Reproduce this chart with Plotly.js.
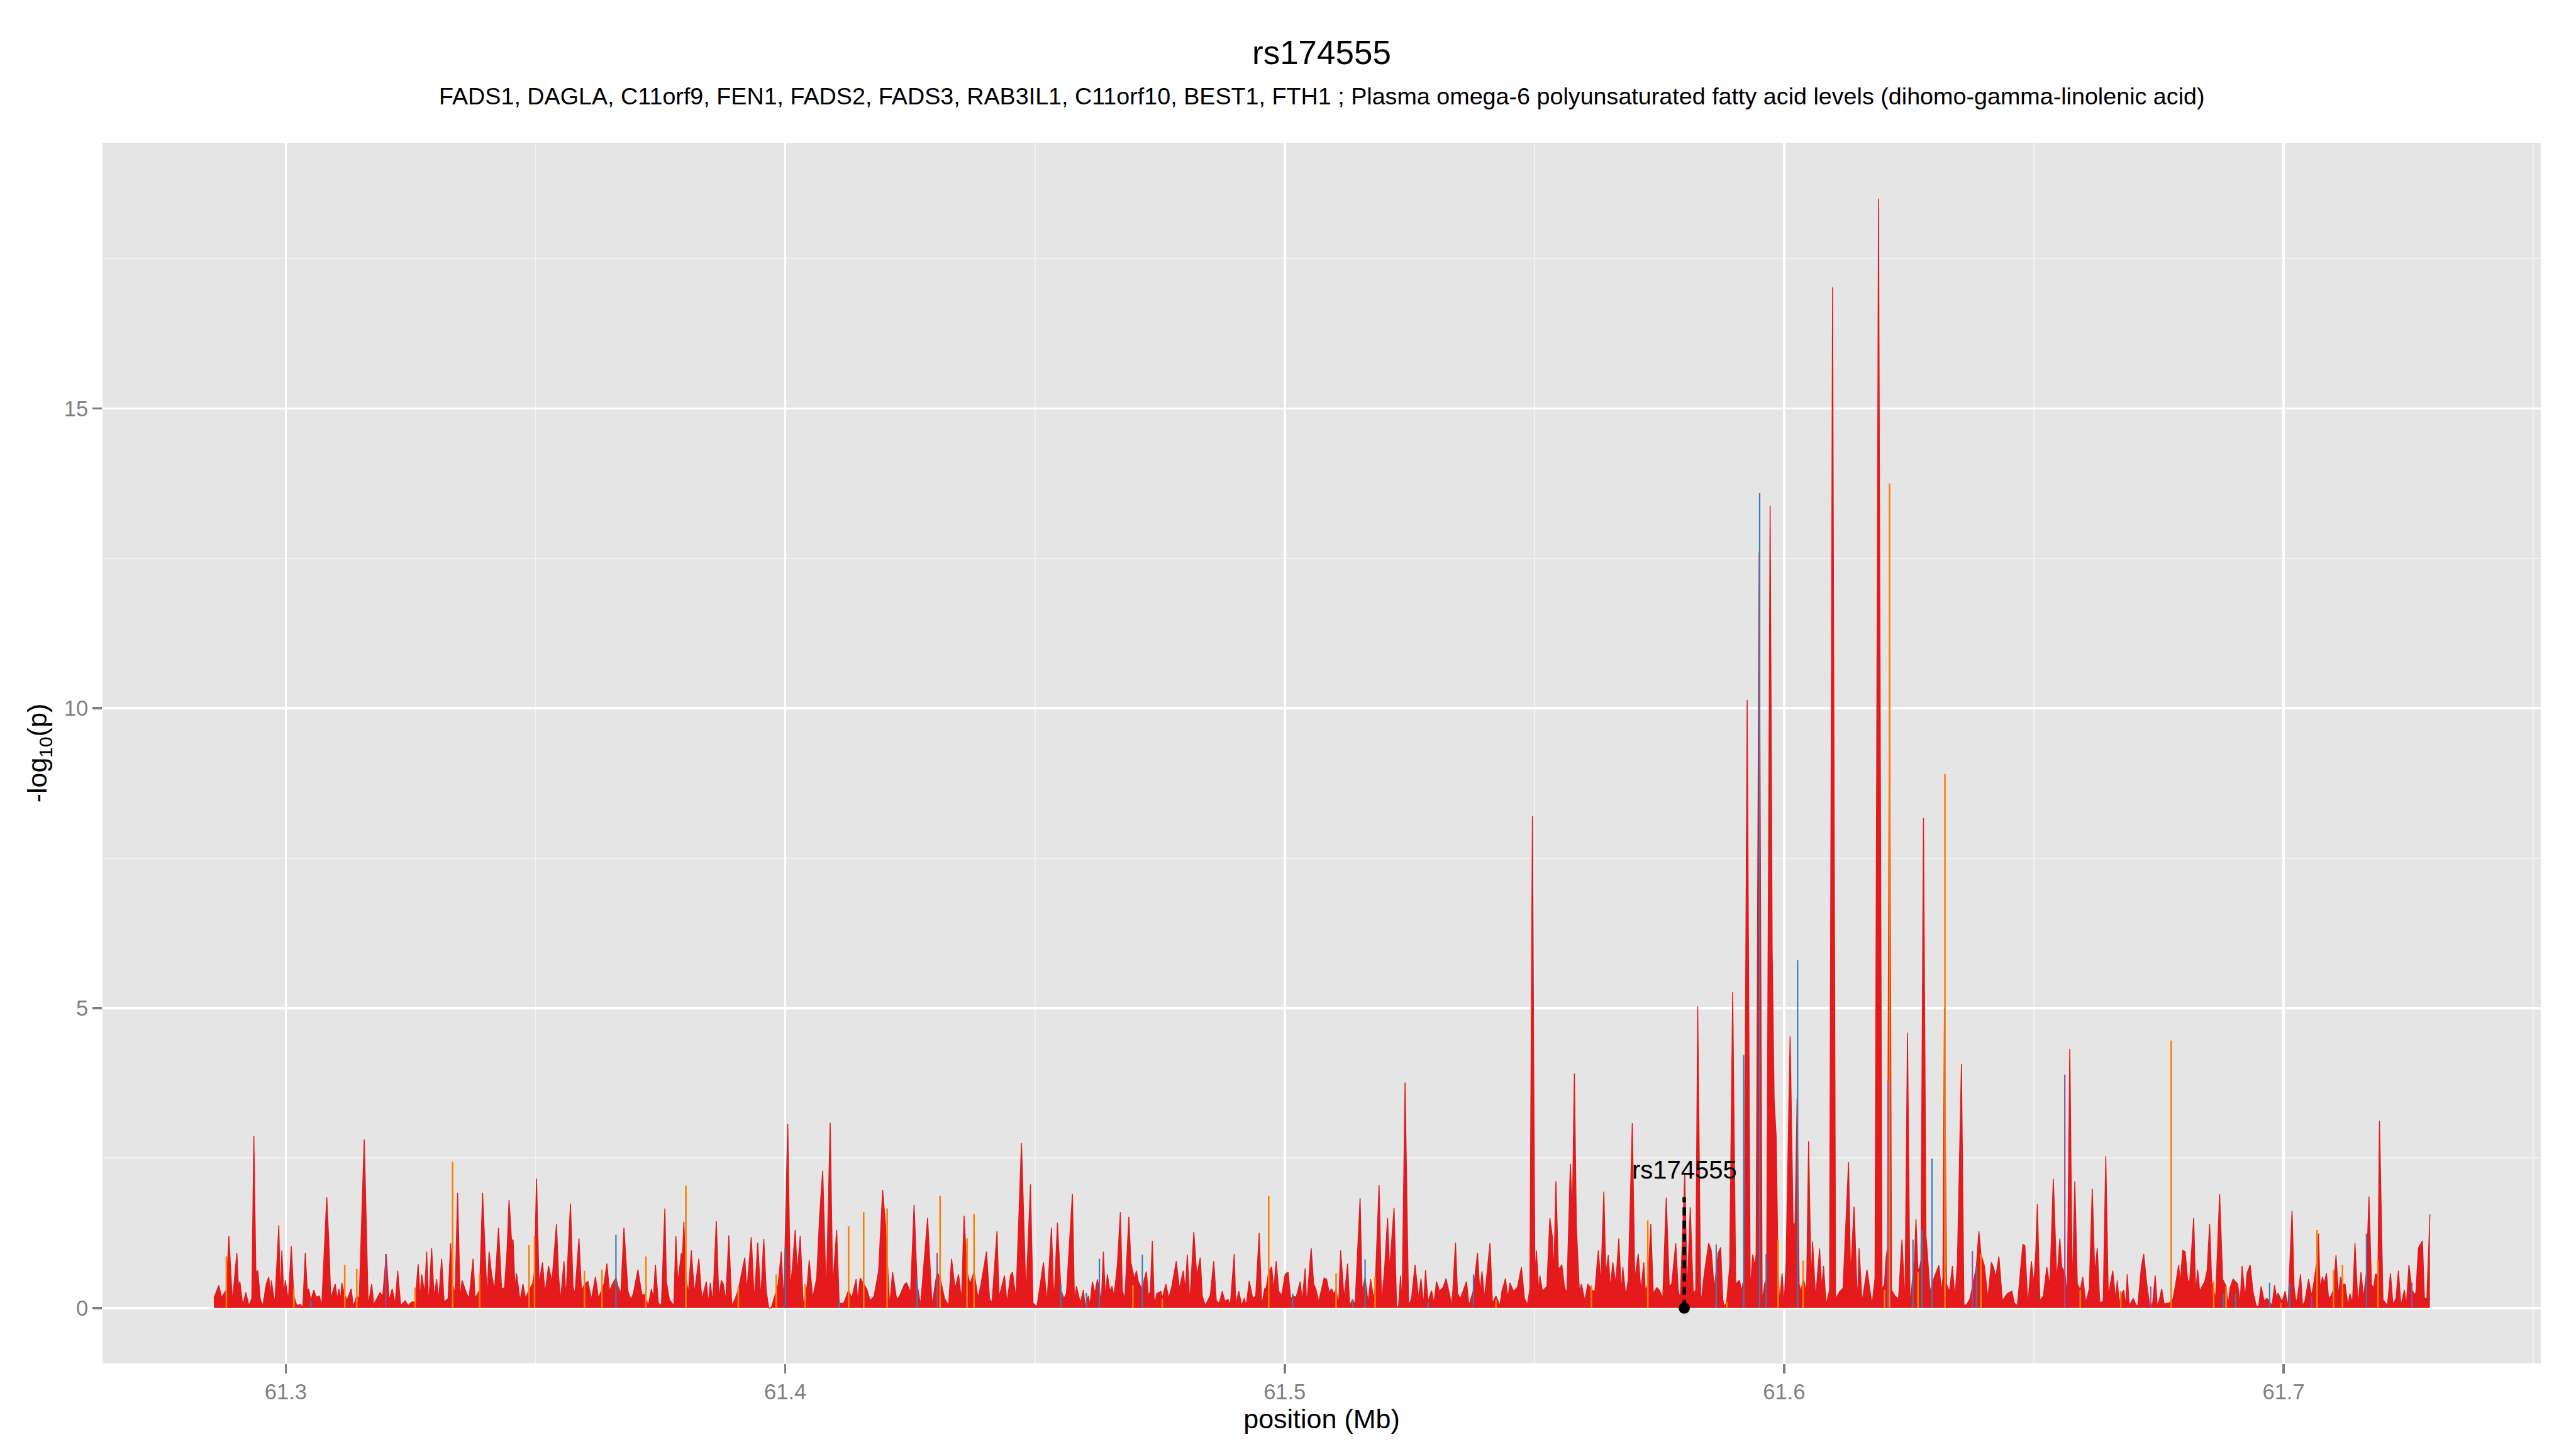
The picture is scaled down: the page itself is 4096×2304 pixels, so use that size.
<!DOCTYPE html>
<html><head><meta charset="utf-8">
<script src="https://cdn.plot.ly/plotly-3.0.1.min.js"></script>
<style>html,body{margin:0;padding:0;background:#fff}#chart{width:4096px;height:2304px}</style>
</head><body><div id="chart"></div>
<script>
const chartTitle = 'rs174555';
const chartSubtitle = 'FADS1, DAGLA, C11orf9, FEN1, FADS2, FADS3, RAB3IL1, C11orf10, BEST1, FTH1 ; Plasma omega-6 polyunsaturated fatty acid levels (dihomo-gamma-linolenic acid)';
const xTickVals = [61.3, 61.4, 61.5, 61.6, 61.7];
const xTickText = ['61.3', '61.4', '61.5', '61.6', '61.7'];
const xMinorVals = [61.35, 61.45, 61.55, 61.65, 61.75];
const yTickVals = [0, 5, 10, 15];
const yTickText = ['0', '5', '10', '15'];
const yMinorVals = [2.5, 7.5, 12.5, 17.5];
const leadSnp = {name: 'rs174555', pos: 61.5800, logp: 1.85};

// [position (Mb), -log10(p)] for the red series, by region
const redA = [[61.2856,0.16],[61.2866,0.38],[61.2871,0.18],[61.2881,0.3],[61.2886,1.2],[61.2893,0.1],[61.2902,0.92],[61.2905,0.36],[61.2908,0.44],[61.2914,0.04],[61.2920,0.26],[61.2926,0.04],[61.2932,0.16],[61.2936,2.87],[61.2940,0.6],[61.2944,0.62],[61.2949,0.14],[61.2954,0.04],[61.2961,0.4],[61.2966,0.52],[61.2969,0.16],[61.2971,0.46],[61.2978,0.06],[61.2986,1.38],[61.2989,0.12],[61.2992,0.96],[61.2996,0.2],[61.2999,0.46],[61.3005,0.12],[61.3011,1.03],[61.3016,0.2],[61.3022,0.04],[61.3029,0.06],[61.3034,0],[61.3039,0.92],[61.3043,0.28],[61.3046,0.32],[61.3050,0.12],[61.3056,0.3],[61.3061,0.18],[61.3067,0.2],[61.3072,0.04],[61.3082,1.85],[61.3086,1.12],[61.3090,0.16],[61.3099,0.4],[61.3103,0.14],[61.3106,0.32],[61.3110,0.14],[61.3112,0.42],[61.3118,0.2],[61.3123,0.14],[61.3131,0.32],[61.3135,0.02],[61.3142,0.2],[61.3147,0.16],[61.3157,2.81],[61.3165,0.04],[61.3172,0.4],[61.3176,0.06],[61.3189,0.26],[61.3194,0.18],[61.3201,0.9],[61.3207,0.12],[61.3213,0.32],[61.3219,0.06],[61.3224,0.62],[61.3230,0.04],[61.3239,0.12],[61.3245,0.04],[61.3252,0.1],[61.3259,0.1],[61.3265,0.73],[61.3269,0.16],[61.3272,0.56],[61.3278,0.24],[61.3282,0.94],[61.3286,0.02],[61.3292,1.0],[61.3297,0.16],[61.3302,0.48],[61.3306,0.12],[61.3312,0.82],[61.3317,0.1],[61.3325,0.16],[61.3330,1.08],[61.3334,0.4],[61.3339,0.24],[61.3344,1.92],[61.3349,0.16],[61.3353,0.46],[61.3362,0.24],[61.3367,0.16],[61.3375,0.82],[61.3379,0.16],[61.3384,0.24],[61.3388,0.3],[61.3394,1.92],[61.3398,1.12],[61.3403,0.16],[61.3407,0.94],[61.3412,0.56],[61.3418,0.3],[61.3426,1.34],[61.3432,0.32],[61.3438,0.34],[61.3443,0.96],[61.3447,1.8],[61.3452,1.12],[61.3455,1.14],[61.3459,0.32],[61.3462,0.58],[61.3469,0.12],[61.3475,0.4],[61.3480,0.16],[61.3487,0.3],[61.3494,0.4],[61.3498,0.6],[61.3502,2.16],[61.3507,0.4],[61.3514,0.76],[61.3519,0.24],[61.3526,0.7],[61.3533,0.44],[61.3542,1.4],[61.3546,0.56],[61.3550,0.12],[61.3557,0.78],[61.3561,0.16],[61.3570,1.74],[61.3575,0.36],[61.3579,0.24],[61.3587,1.16],[61.3592,0.28],[61.3598,0.4],[61.3605,0.44],[61.3612,0.14],[61.3620,0.52],[61.3626,0.16],[61.3633,0.3],[61.3637,0.4],[61.3643,0.74],[61.3648,0.28],[61.3654,0.4],[61.3661,0.5],[61.3665,0.36],[61.3671,0.24],[61.3677,1.34],[61.3685,0.28],[61.3691,0.14],[61.3696,0.24],[61.3705,0.64],[61.3713,0.22]];
const redB = [[61.3718,0.22],[61.3726,0.04],[61.3732,0.32],[61.3736,0.16],[61.3740,0.72],[61.3746,0.08],[61.3752,0.04],[61.3759,1.66],[61.3762,0.44],[61.3768,0.14],[61.3777,0.04],[61.3781,1.2],[61.3785,0.4],[61.3792,0.92],[61.3794,0.78],[61.3797,1.44],[61.3801,0.5],[61.3806,0.24],[61.3812,0.96],[61.3818,0.24],[61.3827,0.82],[61.3833,0.14],[61.3842,0.44],[61.3846,0.08],[61.3850,0.42],[61.3855,0.08],[61.3862,1.45],[61.3867,0.16],[61.3872,0.46],[61.3876,0.4],[61.3881,0.12],[61.3887,1.21],[61.3893,0.04],[61.3900,0.16],[61.3906,0.3],[61.3913,0.6],[61.3919,0.84],[61.3923,0.28],[61.3932,1.18],[61.3938,0.12],[61.3945,1.09],[61.3951,0.16],[61.3957,1.15],[61.3962,0.28],[61.3967,0],[61.3972,0],[61.3976,0.12],[61.3982,0.3],[61.3986,0.4],[61.3992,0.94],[61.3997,0.08],[61.4005,3.07],[61.4010,0.32],[61.4014,0.64],[61.4020,1.3],[61.4024,0.58],[61.4030,1.2],[61.4036,0.04],[61.4040,0.2],[61.4044,0.38],[61.4048,0.8],[61.4055,0.16],[61.4063,0.5],[61.4069,1.56],[61.4075,2.29],[61.4082,0.2],[61.4090,3.09],[61.4095,0.36],[61.4103,1.3],[61.4108,0.08],[61.4117,0.08],[61.4127,0.3],[61.4133,0.16],[61.4142,0.48],[61.4145,0.12],[61.4150,0.5],[61.4157,0.4],[61.4163,0.32],[61.4170,0.12],[61.4178,0.2],[61.4187,0.62],[61.4195,1.97],[61.4201,1.36],[61.4209,0.04],[61.4215,0.6],[61.4223,0.14],[61.4229,0.2],[61.4239,0.4],[61.4243,0.42],[61.4251,0.26],[61.4258,1.72],[61.4264,0.4],[61.4271,0.04],[61.4285,1.5],[61.4294,0.04],[61.4304,0.6],[61.4310,0.5],[61.4319,0.16],[61.4327,0.04],[61.4333,0.82],[61.4340,0.32],[61.4347,0.56],[61.4353,0.12],[61.4358,1.54],[61.4364,0.6],[61.4370,0.4],[61.4378,0.6],[61.4386,0.16],[61.4392,0.4],[61.4403,0.94],[61.4409,0.16],[61.4414,0.08],[61.4424,1.28],[61.4428,0.18],[61.4439,0.54],[61.4444,0.08],[61.4451,0.54],[61.4455,0.6],[61.4462,0.16],[61.4473,2.75],[61.4482,0.2],[61.4491,2.06],[61.4496,0.08],[61.4504,0.02],[61.4517,0.76],[61.4524,0.08],[61.4533,1.34],[61.4538,0.08],[61.4545,1.42],[61.4552,0.3],[61.4558,0.16],[61.4563,0.24],[61.4575,1.9]];
const redC = [[61.4579,0.12],[61.4583,0.36],[61.4587,0.22],[61.4591,0.08],[61.4597,0.3],[61.4600,0.04],[61.4607,0.2],[61.4610,0.04],[61.4615,0.44],[61.4620,0.24],[61.4625,0.48],[61.4633,0.12],[61.4637,0.94],[61.4641,0.16],[61.4645,0.56],[61.4650,0.28],[61.4654,0.36],[61.4658,0.2],[61.4661,0.4],[61.4665,0.72],[61.4671,1.6],[61.4675,0.28],[61.4680,0.16],[61.4688,1.52],[61.4692,0.76],[61.4699,0.48],[61.4703,0.62],[61.4707,0.44],[61.4715,0.3],[61.4719,0.48],[61.4723,0.61],[61.4727,0.2],[61.4731,0.28],[61.4735,1.12],[61.4739,0.04],[61.4744,0.24],[61.4752,0.28],[61.4755,0.16],[61.4762,0.4],[61.4768,0.16],[61.4774,0.36],[61.4783,0.78],[61.4789,0.32],[61.4797,0.62],[61.4801,0.28],[61.4805,0.89],[61.4810,0.08],[61.4818,1.27],[61.4824,0.54],[61.4831,0.84],[61.4835,0.2],[61.4841,0.04],[61.4851,0.21],[61.4858,0.78],[61.4863,0.12],[61.4869,0.08],[61.4875,0.28],[61.4880,0.12],[61.4887,0.14],[61.4891,0.04],[61.4899,0.9],[61.4902,0.04],[61.4908,0.28],[61.4914,0.04],[61.4919,0.16],[61.4923,0.04],[61.4929,0.45],[61.4936,0.16],[61.4942,0.2],[61.4949,1.25],[61.4954,0.04],[61.4960,0.32],[61.4963,0.34],[61.4968,0.6],[61.4974,0.69],[61.4978,0.28],[61.4983,0.78],[61.4988,0.28],[61.4994,0.21],[61.5001,0.56],[61.5007,0.6],[61.5012,0.14],[61.5016,0.2],[61.5023,0.18],[61.5031,0.44],[61.5035,0.12],[61.5041,0.66],[61.5044,0.04],[61.5053,1.0],[61.5058,0.4],[61.5063,0.3],[61.5068,0.1],[61.5079,0.5],[61.5084,0.48],[61.5089,0.26],[61.5094,0.32],[61.5098,0.24],[61.5103,0.3],[61.5108,0.04],[61.5112,0.96],[61.5119,0.16],[61.5126,0.74],[61.5130,0.04],[61.5136,0.14],[61.5141,0.06],[61.5151,1.83],[61.5155,0.28],[61.5161,0.5],[61.5167,0.08],[61.5172,0.48],[61.5178,0.16],[61.5181,0.3],[61.5189,2.05],[61.5194,0.08],[61.5200,0.64],[61.5206,1.5],[61.5210,0.64],[61.5219,1.67],[61.5224,0.02],[61.5228,0.02],[61.5232,0.54],[61.5235,0.04],[61.5241,3.76],[61.5248,0.04],[61.5254,0.16],[61.5261,0.72],[61.5268,0.16],[61.5273,0.49],[61.5278,0.04],[61.5282,0.63],[61.5287,0.1],[61.5294,0.29],[61.5299,0.08],[61.5304,0.44],[61.5310,0.28],[61.5317,0.34],[61.5323,0.49],[61.5330,0.24],[61.5335,0.04],[61.5342,1.09],[61.5346,0.24],[61.5352,0.16],[61.5364,0.44],[61.5369,0.04],[61.5378,0.3],[61.5386,0.92],[61.5391,0.24],[61.5395,0.61],[61.5400,0.16],[61.5404,0.48],[61.5411,1.08],[61.5416,0.08],[61.5423,0.2],[61.5431,0.04],[61.5435,0.28]];
const redD = [[61.5442,0.49],[61.5447,0.16],[61.5451,0.42],[61.5458,0.28],[61.5466,0.34],[61.5474,0.68],[61.5480,0.16],[61.5486,0.06],[61.5491,0.32],[61.5496,8.2],[61.5501,0.48],[61.5504,0.96],[61.5509,0.24],[61.5511,0.54],[61.5516,0.28],[61.5520,0.32],[61.5525,0.36],[61.5531,1.5],[61.5536,1.18],[61.5539,0.56],[61.5543,2.11],[61.5548,0.64],[61.5555,0.72],[61.5560,0.36],[61.5565,0.24],[61.5572,2.4],[61.5576,1.56],[61.5580,3.91],[61.5584,1.36],[61.5590,0.28],[61.5594,0.4],[61.5601,0.12],[61.5607,0.4],[61.5614,0.3],[61.5621,0.28],[61.5628,0.96],[61.5633,0.4],[61.5639,1.94],[61.5643,0.56],[61.5648,0.88],[61.5652,0.32],[61.5657,0.76],[61.5663,0.4],[61.5669,1.16],[61.5674,0.24],[61.5677,0.68],[61.5683,0.2],[61.5688,0.48],[61.5696,3.08],[61.5701,0.48],[61.5708,0.9],[61.5713,0.28],[61.5719,0.76],[61.5722,0.28],[61.5727,0.4],[61.5733,1.4],[61.5738,0.24],[61.5745,0.34],[61.5750,0.3],[61.5757,0.16],[61.5764,1.84],[61.5770,0.36],[61.5775,0.4],[61.5783,1.08],[61.5788,0.28],[61.5792,0.16],[61.5801,2.22],[61.5806,0.24],[61.5812,1.68],[61.5818,0.24],[61.5823,0.3],[61.5827,5.03],[61.5833,0.04],[61.5840,0.56],[61.5849,1.08],[61.5854,0.96],[61.5860,0.32],[61.5868,0.92],[61.5873,1.01],[61.5877,0.15],[61.5880,0.02],[61.5885,0.1],[61.5891,0.7],[61.5897,5.27],[61.5903,0.4],[61.5911,0.46],[61.5914,0.27],[61.5920,0.5],[61.5926,10.14],[61.5932,0.4],[61.5934,0.5],[61.5937,0.89],[61.5941,0.7],[61.5944,0.9],[61.5950,12.6],[61.5956,0.1],[61.5961,0.4],[61.5965,0.5],[61.5972,13.38],[61.5976,6.0],[61.5980,3.48],[61.5984,2.86],[61.5988,0.6],[61.5991,0.1],[61.5996,0.58],[61.6000,0.05],[61.6004,0.77],[61.6012,4.53],[61.6018,1.4],[61.6022,1.4],[61.6026,3.5],[61.6030,0.4],[61.6034,0.27],[61.6038,0.5],[61.6045,0.27],[61.6049,2.78],[61.6054,0.4],[61.6057,1.11],[61.6063,0.15],[61.6071,0.99],[61.6075,0.33],[61.6079,0.7],[61.6084,0.05],[61.6091,0.3],[61.6097,17.02],[61.6103,0.15],[61.6111,0.27],[61.6118,0.33],[61.6129,2.43],[61.6133,0.52],[61.6140,1.69],[61.6147,0.05],[61.6150,1.0],[61.6156,0.1],[61.6166,0.64],[61.6176,0.05],[61.6182,0.5],[61.6189,18.5],[61.6196,0.3],[61.6201,0.4],[61.6204,0.83],[61.6207,1.0],[61.6211,11.0],[61.6215,0.3],[61.6222,0.2],[61.6229,0.15],[61.6236,1.14],[61.6242,0.05],[61.6247,4.59],[61.6252,0.05],[61.6258,0.6],[61.6261,0.8],[61.6264,1.48],[61.6268,0.6],[61.6272,0.7],[61.6274,0.8],[61.6279,8.17],[61.6284,1.2],[61.6286,1.0],[61.6292,0.27],[61.6301,0.52],[61.6310,0.71],[61.6315,0.27],[61.6318,0.5],[61.6321,5.0],[61.6325,0.4],[61.6331,0.27],[61.6337,0.7],[61.6342,0.15],[61.6347,0.77],[61.6355,4.07],[61.6360,0.05],[61.6365,0.05],[61.6372,0.15],[61.6381,0.52],[61.6385,0.7],[61.6390,1.28],[61.6394,0.9],[61.6401,0.7]];
const redE1 = [[61.6408,0.16],[61.6415,0.76],[61.6419,0.68],[61.6424,0.52],[61.6430,0.86],[61.6437,0.12],[61.6447,0.24],[61.6456,0.28],[61.6461,0.08],[61.6467,0.04],[61.6478,1.06],[61.6482,1.04],[61.6488,0.04],[61.6495,0.78],[61.6500,0.4],[61.6504,0.96],[61.6507,1.73],[61.6512,0.12],[61.6519,0.2],[61.6526,0.68],[61.6532,0.36],[61.6539,2.15],[61.6546,0.44],[61.6552,1.16],[61.6556,0.68],[61.6562,0.6],[61.6567,0.2],[61.6572,4.32],[61.6577,0.24],[61.6582,2.11],[61.6587,0.4],[61.6593,0.3],[61.6598,0.52],[61.6604,0.08],[61.6611,0.32],[61.6617,1.99],[61.6622,0.56],[61.6627,1.0],[61.6632,0.08],[61.6639,0.12],[61.6644,2.53],[61.6649,0.2],[61.6658,0.62]];
const redE2 = [[61.6664,0.12],[61.6667,0.46],[61.6671,0.06],[61.6674,0.2],[61.6680,0.3],[61.6684,0.02],[61.6687,0.56],[61.6691,0.04],[61.6699,0.16],[61.6704,0.06],[61.6708,0.02],[61.6715,0.66],[61.6720,0.9],[61.6726,0.4],[61.6732,0.04],[61.6738,0.08],[61.6743,0.54],[61.6747,0.04],[61.6751,0.12],[61.6756,0.32],[61.6761,0.06],[61.6765,0.08],[61.6771,0.08],[61.6779,0.16],[61.6784,0.4],[61.6790,0.72],[61.6793,0.4],[61.6798,0.96],[61.6803,0.94],[61.6808,0.46],[61.6812,0.44],[61.6820,1.5],[61.6824,0.24],[61.6828,0.64],[61.6832,0.28],[61.6837,0.36],[61.6842,0.44],[61.6847,0.62],[61.6852,1.4],[61.6856,0.44],[61.6864,0.16],[61.6872,1.9],[61.6878,0.48],[61.6885,0.36],[61.6889,0.04],[61.6893,0.34],[61.6899,0.48],[61.6908,0.4],[61.6913,0.08],[61.6917,0.7],[61.6923,0.16],[61.6927,0.58],[61.6933,0.72],[61.6939,0.26],[61.6945,0.04],[61.6950,0.02],[61.6955,0.36],[61.6961,0.12],[61.6967,0.16],[61.6977,0.04],[61.6982,0.38],[61.6986,0.16],[61.6989,0.25],[61.6997,0.1],[61.7003,0.28],[61.7009,0.02],[61.7017,1.62],[61.7021,0.36],[61.7025,0.08],[61.7028,0.18],[61.7034,0.56],[61.7038,0.04],[61.7043,0.12],[61.7050,0.48],[61.7056,0.2],[61.7061,0.44],[61.7067,0.8],[61.7070,1.24],[61.7073,0.32],[61.7078,0.52],[61.7081,0.4],[61.7086,0.58],[61.7090,0.16],[61.7095,0.2],[61.7100,0.3],[61.7105,0.88],[61.7110,0.2],[61.7114,0.52],[61.7118,0.4],[61.7123,0.4],[61.7129,0.04],[61.7133,0.24],[61.7138,0.08],[61.7143,1.08],[61.7149,0.04],[61.7155,0.6],[61.7160,0.16],[61.7166,0.6],[61.7171,1.86],[61.7176,0.4],[61.7180,0.32],[61.7184,0.56],[61.7189,0.56],[61.7192,3.12],[61.7199,0.14],[61.7208,0.04],[61.7214,0.58],[61.7219,0.06],[61.7225,0.16],[61.7230,0.62],[61.7235,0.04],[61.7242,0.3],[61.7246,0.04],[61.7251,0.72],[61.7257,0.3],[61.7263,0.22],[61.7265,0.26],[61.7270,1.0],[61.7278,1.12],[61.7282,0.16],[61.7287,0.16],[61.7293,1.56]];

const orangeSnps = [[61.2881,0.86],[61.3016,0.32],[61.3118,0.72],[61.3142,0.65],[61.3259,0.34],[61.3334,2.44],[61.3388,0.56],[61.3487,1.05],[61.3498,1.2],[61.3598,0.62],[61.3633,0.64],[61.3721,0.86],[61.3801,2.04],[61.3906,0.36],[61.3982,0.56],[61.4040,0.4],[61.4127,1.36],[61.4157,1.6],[61.4204,1.66],[61.4310,1.87],[61.4364,1.16],[61.4378,1.57],[61.4696,0.38],[61.4755,0.16],[61.4968,1.87],[61.5103,0.58],[61.5181,0.52],[61.5423,0.14],[61.5614,0.38],[61.5727,1.46],[61.5885,0.1],[61.5988,1.14],[61.6038,0.79],[61.6201,0.3],[61.6211,13.75],[61.6268,0.6],[61.6322,8.9],[61.6394,0.9],[61.6593,0.3],[61.6674,0.28],[61.6775,4.46],[61.6860,0.44],[61.6885,0.36],[61.6994,0.08],[61.7067,1.3],[61.7100,0.64],[61.7118,0.72],[61.7189,0.8]];
const blueSnps = [[61.3050,0.12],[61.3661,1.22],[61.4000,1.0],[61.4108,0.1],[61.4264,0.48],[61.4552,0.38],[61.4603,0.25],[61.4629,0.82],[61.4715,0.89],[61.5016,0.24],[61.5136,0.14],[61.5161,0.81],[61.5287,0.1],[61.5378,0.56],[61.5864,1.06],[61.5919,4.22],[61.5951,13.59],[61.5964,0.9],[61.6027,5.8],[61.6258,1.14],[61.6276,1.3],[61.6296,2.49],[61.6385,0.7],[61.6880,0.24],[61.6904,0.24],[61.6972,0.42],[61.7012,0.42],[61.7166,1.24]];
const purpleSnps = [[61.3200,0.9],[61.4304,0.92],[61.6208,3.79],[61.6377,0.95],[61.6562,3.89],[61.6734,0.36],[61.7056,0.2],[61.7257,0.42]];

const FONT = 'Liberation Sans, Arial, Helvetica, sans-serif';
const red = [].concat(redA, redB, redC, redD, redE1, redE2);

function spikes(arr) {
  const x = [], y = [];
  arr.forEach(function (d) { x.push(d[0], d[0], null); y.push(0, d[1], null); });
  return {x: x, y: y};
}
const o = spikes(orangeSnps), b = spikes(blueSnps), p = spikes(purpleSnps);

const traces = [
  {type: 'scatter', mode: 'lines', x: red.map(d => d[0]), y: red.map(d => d[1]),
   fill: 'tozeroy', fillcolor: '#E41A1C', line: {color: '#E41A1C', width: 1.5}, hoverinfo: 'skip'},
  {type: 'scatter', mode: 'lines', x: o.x, y: o.y, line: {color: '#FF7F00', width: 2.6}, hoverinfo: 'skip'},
  {type: 'scatter', mode: 'lines', x: b.x, y: b.y, line: {color: '#377EB8', width: 2.2}, hoverinfo: 'skip'},
  {type: 'scatter', mode: 'lines', x: p.x, y: p.y, line: {color: '#984EA3', width: 2.2}, hoverinfo: 'skip'},
  {type: 'scatter', mode: 'lines', x: [leadSnp.pos, leadSnp.pos], y: [0, leadSnp.logp],
   line: {color: '#000000', width: 5.5, dash: '13px,8px'}, hoverinfo: 'skip'},
  {type: 'scatter', mode: 'markers', x: [leadSnp.pos], y: [0],
   marker: {color: '#000000', size: 18}, hoverinfo: 'skip'}
];

const layout = {
  width: 4096, height: 2304,
  paper_bgcolor: '#FFFFFF', plot_bgcolor: '#E5E5E5',
  showlegend: false, hovermode: false,
  margin: {l: 163, r: 56, t: 227, b: 136, pad: 0},
  font: {family: FONT, color: '#000000'},
  title: {text: chartTitle, x: 0.5, xref: 'paper', xanchor: 'center',
          y: 1 - 83 / 2304, yref: 'container', yanchor: 'middle',
          font: {family: FONT, size: 53, color: '#000000'}},
  xaxis: {
    range: [61.2633, 61.7515], tickmode: 'array', tickvals: xTickVals, ticktext: xTickText,
    ticks: 'outside', ticklen: 15, tickwidth: 3.8, tickcolor: '#7F7F7F',
    tickfont: {family: FONT, size: 34.5, color: '#7F7F7F'},
    showgrid: true, gridcolor: '#FFFFFF', gridwidth: 3.8,
    minor: {tickmode: 'array', tickvals: xMinorVals, showgrid: true, gridcolor: '#F2F2F2', gridwidth: 1.9},
    zeroline: false, showline: false, automargin: true,
    title: {text: 'position (Mb)', standoff: 4, font: {family: FONT, size: 43, color: '#000000'}}
  },
  yaxis: {
    range: [-0.925, 19.43], tickmode: 'array', tickvals: yTickVals, ticktext: yTickText,
    ticks: 'outside', ticklen: 15, tickwidth: 3.8, tickcolor: '#7F7F7F',
    tickfont: {family: FONT, size: 34.5, color: '#7F7F7F'},
    showgrid: true, gridcolor: '#FFFFFF', gridwidth: 3.8,
    minor: {tickmode: 'array', tickvals: yMinorVals, showgrid: true, gridcolor: '#F2F2F2', gridwidth: 1.9},
    zeroline: false, showline: false, automargin: false,
    title: {text: '-log<sub>10</sub>(p)', standoff: 13, font: {family: FONT, size: 43, color: '#000000'}}
  },
  annotations: [
    {text: chartSubtitle, xref: 'paper', yref: 'paper', x: 0.5, y: (2168 - 153) / (2168 - 227),
     xanchor: 'center', yanchor: 'middle', showarrow: false,
     font: {family: FONT, size: 37.7, color: '#000000'}},
    {text: leadSnp.name, xref: 'x', yref: 'y', x: leadSnp.pos, y: leadSnp.logp + 0.45,
     xanchor: 'center', yanchor: 'middle', showarrow: false,
     font: {family: FONT, size: 40, color: '#000000'}}
  ]
};

Plotly.newPlot('chart', traces, layout, {staticPlot: true, displayModeBar: false});
</script>
</body></html>
